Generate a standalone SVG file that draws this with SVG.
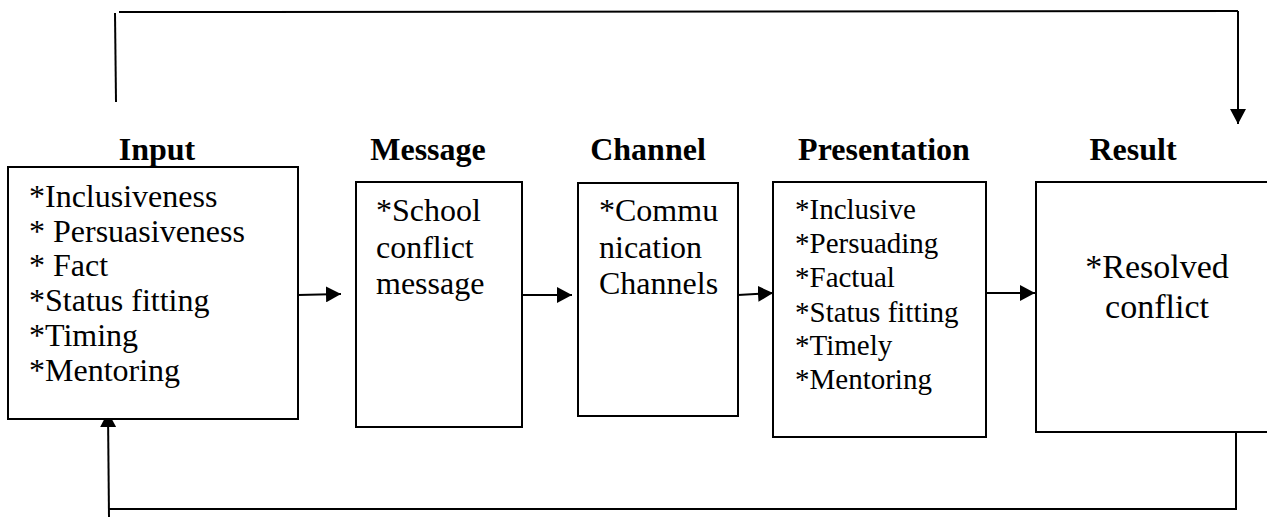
<svg xmlns="http://www.w3.org/2000/svg" width="1267" height="518" viewBox="0 0 1267 518">
<style>
.box{fill:#fff;stroke:#000;stroke-width:2}
.ln{fill:none;stroke:#000;stroke-width:2}
</style>
<defs>
<marker id="ah" markerUnits="userSpaceOnUse" markerWidth="16" markerHeight="16" refX="15" refY="8" orient="auto">
<path d="M0,0 L15,8 L0,16 Z" fill="#000"/>
</marker>
</defs>
<rect width="1267" height="518" fill="#fff"/>
<g id="connectors">
<line class="ln" x1="115" y1="13" x2="116" y2="102"/>
<line class="ln" x1="119" y1="12" x2="1238" y2="11"/>
<line class="ln" x1="1238" y1="11" x2="1238" y2="124" marker-end="url(#ah)"/>
<line class="ln" x1="1236" y1="432" x2="1236" y2="510"/>
<line class="ln" x1="1236" y1="509" x2="108" y2="509"/>
<line class="ln" x1="109" y1="517" x2="108" y2="412" marker-end="url(#ah)"/>
<line class="ln" x1="298" y1="295" x2="341" y2="294" marker-end="url(#ah)"/>
<line class="ln" x1="522" y1="295" x2="572" y2="295" marker-end="url(#ah)"/>
<line class="ln" x1="738" y1="295" x2="773" y2="293" marker-end="url(#ah)"/>
<line class="ln" x1="986" y1="293" x2="1035" y2="293" marker-end="url(#ah)"/>
</g>
<g id="input" font-family="Liberation Serif, serif" font-size="32" fill="#000">
<text x="157" y="160" font-weight="bold" text-anchor="middle">Input</text>
<rect class="box" x="8" y="167" width="290" height="252"/>
<text x="29" y="207">*Inclusiveness</text>
<text x="29" y="242">* Persuasiveness</text>
<text x="29" y="276">* Fact</text>
<text x="29" y="311">*Status fitting</text>
<text x="29" y="346">*Timing</text>
<text x="29" y="381">*Mentoring</text>
</g>
<g id="message" font-family="Liberation Serif, serif" font-size="32" fill="#000">
<text x="428" y="160" font-weight="bold" text-anchor="middle">Message</text>
<rect class="box" x="356" y="182" width="166" height="245"/>
<text x="376" y="221">*School</text>
<text x="376" y="258">conflict</text>
<text x="376" y="294">message</text>
</g>
<g id="channel" font-family="Liberation Serif, serif" font-size="32" fill="#000">
<text x="648" y="160" font-weight="bold" text-anchor="middle">Channel</text>
<rect class="box" x="578" y="183" width="160" height="233"/>
<text x="599" y="221">*Commu</text>
<text x="599" y="258">nication</text>
<text x="599" y="294">Channels</text>
</g>
<g id="presentation" font-family="Liberation Serif, serif" font-size="29" fill="#000">
<text x="884" y="160" font-size="32" font-weight="bold" text-anchor="middle">Presentation</text>
<rect class="box" x="773" y="182" width="213" height="255"/>
<text x="795" y="219">*Inclusive</text>
<text x="795" y="253">*Persuading</text>
<text x="795" y="287">*Factual</text>
<text x="795" y="322">*Status fitting</text>
<text x="795" y="355">*Timely</text>
<text x="795" y="389">*Mentoring</text>
</g>
<g id="result" font-family="Liberation Serif, serif" font-size="34" fill="#000">
<text x="1133" y="160" font-size="32" font-weight="bold" text-anchor="middle">Result</text>
<rect class="box" x="1036" y="182" width="240" height="250"/>
<text x="1157" y="278" text-anchor="middle">*Resolved</text>
<text x="1157" y="318" text-anchor="middle">conflict</text>
</g>
</svg>
